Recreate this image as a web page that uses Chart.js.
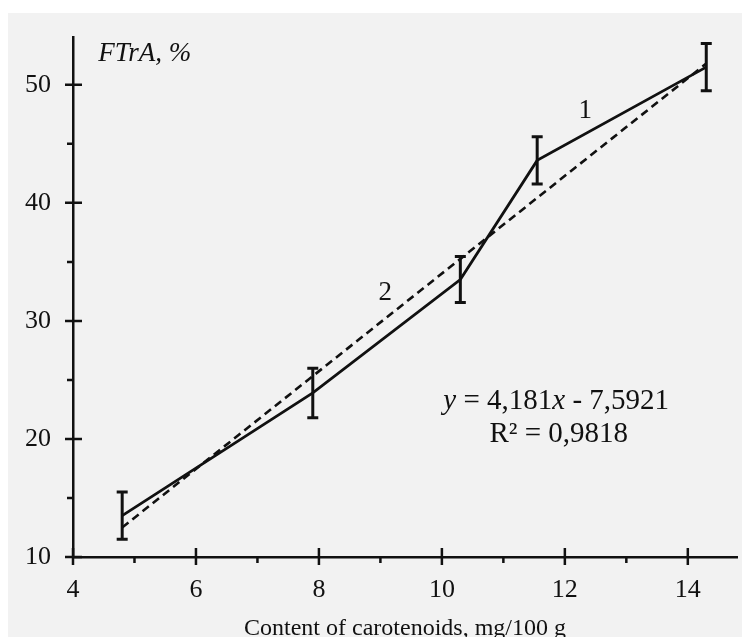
<!DOCTYPE html>
<html>
<head>
<meta charset="utf-8">
<script src="https://cdn.jsdelivr.net/npm/chart.js@4/dist/chart.umd.min.js"></script>
<style>
  body { margin: 0; background: #fff; }
  #wrap { position: absolute; left: 0; top: 0; width: 742px; height: 637px; }
</style>
</head>
<body>
<div id="wrap"><canvas id="myChart" width="742" height="637"></canvas></div>
<script>
// data
const carotenoids = [4.8, 7.9, 10.3, 11.55, 14.3];
const ftra = [13.5, 23.9, 33.5, 43.6, 51.5];
const ftraErr = [2.0, 2.1, 1.95, 2.0, 2.0];
const trendX = [4.8, 14.3];
const trendY = [12.5, 51.8];
const xTicks = [4, 6, 8, 10, 12, 14];
const xMinor = [5, 7, 9, 11, 13];
const yTicks = [10, 20, 30, 40, 50];
const yMinor = [15, 25, 35, 45];

const ink = '#111111';
const serif = '"Liberation Serif", "Times New Roman", serif';

function pairs(xs, ys) {
  const out = [];
  for (let i = 0; i < xs.length; i++) {
    out.push({ x: xs[i], y: ys[i] });
  }
  return out;
}

// grey paper and white margin like the scan
const paper = {
  id: 'paper',
  beforeDraw(chart) {
    const ctx = chart.ctx;
    ctx.save();
    ctx.fillStyle = '#f2f2f2';
    ctx.fillRect(8, 13, chart.width - 8, chart.height - 13);
    ctx.restore();
  },
};

// tick marks (major ones cross the axis), error bars and notes
const extras = {
  id: 'extras',
  afterDatasetsDraw(chart) {
    const ctx = chart.ctx;
    const xs = chart.scales.x;
    const ys = chart.scales.y;
    const x0 = xs.getPixelForValue(xs.min);
    const y0 = ys.getPixelForValue(ys.min);
    ctx.save();
    ctx.strokeStyle = ink;
    ctx.lineWidth = 2.5;
    ctx.beginPath();
    xTicks.forEach((v) => {
      const px = xs.getPixelForValue(v);
      ctx.moveTo(px, y0 - 9);
      ctx.lineTo(px, y0 + 8);
    });
    xMinor.forEach((v) => {
      const px = xs.getPixelForValue(v);
      ctx.moveTo(px, y0);
      ctx.lineTo(px, y0 + 6);
    });
    yTicks.forEach((v) => {
      const py = ys.getPixelForValue(v);
      ctx.moveTo(x0 - 8, py);
      ctx.lineTo(x0 + 9, py);
    });
    yMinor.forEach((v) => {
      const py = ys.getPixelForValue(v);
      ctx.moveTo(x0 - 6, py);
      ctx.lineTo(x0, py);
    });
    ctx.stroke();

    // error bars
    ctx.lineWidth = 3;
    ctx.beginPath();
    for (let i = 0; i < carotenoids.length; i++) {
      const px = xs.getPixelForValue(carotenoids[i]);
      const top = ys.getPixelForValue(ftra[i] + ftraErr[i]);
      const bot = ys.getPixelForValue(ftra[i] - ftraErr[i]);
      ctx.moveTo(px, top);
      ctx.lineTo(px, bot);
      ctx.moveTo(px - 5.5, top);
      ctx.lineTo(px + 5.5, top);
      ctx.moveTo(px - 5.5, bot);
      ctx.lineTo(px + 5.5, bot);
    }
    ctx.stroke();

    // texts
    ctx.fillStyle = ink;
    ctx.textBaseline = 'middle';
    ctx.textAlign = 'left';
    ctx.font = 'italic 27px ' + serif;
    ctx.fillText('FTrA, %', xs.getPixelForValue(4.41), ys.getPixelForValue(52.6));

    ctx.textAlign = 'center';
    ctx.font = '27px ' + serif;
    ctx.fillText('1', xs.getPixelForValue(12.33), ys.getPixelForValue(47.8));
    ctx.fillText('2', xs.getPixelForValue(9.08), ys.getPixelForValue(32.4));

    // equation with italic variables
    const parts = [
      ['y', true], [' = 4,181', false], ['x', true], [' - 7,5921', false],
    ];
    let total = 0;
    parts.forEach((p) => {
      ctx.font = (p[1] ? 'italic ' : '') + '29px ' + serif;
      total += ctx.measureText(p[0]).width;
    });
    let ex = xs.getPixelForValue(11.86) - total / 2;
    const ey = ys.getPixelForValue(23.2);
    ctx.textAlign = 'left';
    parts.forEach((p) => {
      ctx.font = (p[1] ? 'italic ' : '') + '29px ' + serif;
      ctx.fillText(p[0], ex, ey);
      ex += ctx.measureText(p[0]).width;
    });
    ctx.textAlign = 'center';
    ctx.font = '29px ' + serif;
    ctx.fillText('R\u00b2 = 0,9818', xs.getPixelForValue(11.9), ys.getPixelForValue(20.4));
    ctx.restore();
  },
};

const ctx = document.getElementById('myChart').getContext('2d');
new Chart(ctx, {
  type: 'scatter',
  data: {
    datasets: [
      {
        label: 'FTrA',
        data: pairs(carotenoids, ftra),
        showLine: true,
        borderColor: ink,
        borderWidth: 2.8,
        pointRadius: 0,
        tension: 0,
      },
      {
        label: 'trend',
        data: pairs(trendX, trendY),
        showLine: true,
        borderColor: ink,
        borderWidth: 2.6,
        borderDash: [8, 5],
        pointRadius: 0,
      },
    ],
  },
  options: {
    responsive: false,
    animation: false,
    layout: { padding: { left: 0, right: 5, top: 34, bottom: 0 } },
    plugins: {
      legend: { display: false },
      tooltip: { enabled: false },
    },
    scales: {
      x: {
        type: 'linear',
        min: 4,
        max: 14.8,
        afterFit: (s) => { s.height = 80; },
        afterBuildTicks: (s) => { s.ticks = xTicks.map((v) => ({ value: v })); },
        grid: { display: false, drawTicks: false },
        border: { display: true, color: ink, width: 2.5 },
        ticks: {
          color: ink,
          padding: 18,
          maxRotation: 0,
          autoSkip: false,
          font: { family: serif, size: 26 },
        },
        title: {
          display: true,
          text: 'Content of carotenoids, mg/100 g',
          color: ink,
          padding: { top: 0, bottom: 0 },
          font: { family: serif, size: 24, lineHeight: 0.7 },
        },
      },
      y: {
        type: 'linear',
        min: 10,
        max: 54,
        afterFit: (s) => { s.width = 73; },
        afterBuildTicks: (s) => { s.ticks = yTicks.map((v) => ({ value: v })); },
        grid: { display: false, drawTicks: false },
        border: { display: true, color: ink, width: 2.5 },
        ticks: {
          color: ink,
          padding: 22,
          autoSkip: false,
          font: { family: serif, size: 26 },
        },
      },
    },
  },
  plugins: [paper, extras],
});
</script>
</body>
</html>
